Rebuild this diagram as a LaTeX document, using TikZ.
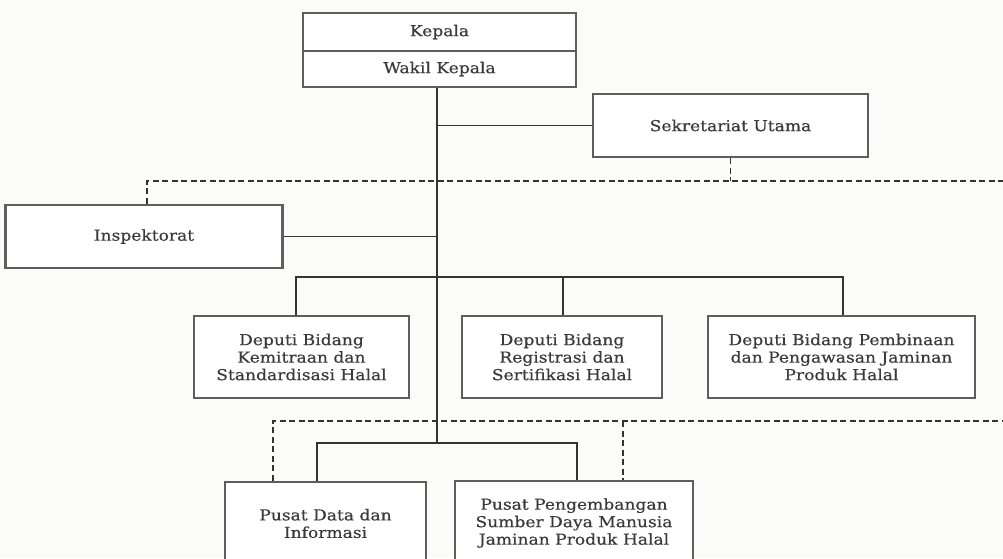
\documentclass[tikz,border=0pt]{standalone}
\usepackage{fontspec}
\setmainfont{DejaVu Serif}[FakeStretch=1.14,FakeBold=0.4]
\usetikzlibrary{calc}
\definecolor{boxline}{HTML}{5E5E5E}
\definecolor{conn}{HTML}{333333}
\definecolor{txt}{HTML}{3A3A3A}
\definecolor{bg}{HTML}{FBFBF9}
\tikzset{
  unit/.style={draw=boxline, line width=2.6pt, fill=white, align=center, text=txt,
    font=\fontsize{15}{17.5}\selectfont, inner sep=0pt},
  link/.style={draw=conn, line width=1.5pt},
  dlink/.style={draw=conn, line width=1.5pt, dash pattern=on 6pt off 3.5pt},
}
\begin{document}
\begin{tikzpicture}[x=1pt,y=-1pt]
\useasboundingbox (0,0) rectangle (1003,558);
\fill[bg] (0,0) rectangle (1003,558);
\clip (0,0) rectangle (1003,558);
% coordinates for drops and free ends
\coordinate (trunkx) at (437,0);
\coordinate (dd1) at (296,0);
\coordinate (dd2) at (563,0);
\coordinate (dd3) at (843,0);
\coordinate (pd1) at (317,0);
\coordinate (pd2) at (577,0);
\coordinate (bus1) at (0,277);
\coordinate (bus2) at (0,443);
\coordinate (dash1) at (0,181);
\coordinate (dash2) at (0,421);
\coordinate (inspx) at (147,0);
\coordinate (dl1) at (273,0);
\coordinate (dl2) at (623,0);
\coordinate (rightend) at (1010,0);
% nodes
\node[unit, minimum width=273pt, minimum height=38pt] (kep) at (439.5,32) {Kepala};
\node[unit, minimum width=273pt, minimum height=36pt] (wak) at (439.5,69) {Wakil Kepala};
\node[unit, minimum width=275pt, minimum height=63pt] (sek) at (730.5,125.5) {Sekretariat Utama};
\node[unit, minimum width=277pt, minimum height=63pt] (ins) at (144,236.5) {Inspektorat};
\node[unit, minimum width=215pt, minimum height=82pt] (dep1) at (301.5,357) {Deputi Bidang\\Kemitraan dan\\Standardisasi Halal};
\node[unit, minimum width=200pt, minimum height=82pt] (dep2) at (562,357) {Deputi Bidang\\Registrasi dan\\Sertifikasi Halal};
\node[unit, minimum width=267pt, minimum height=82pt] (dep3) at (841.5,357) {Deputi Bidang Pembinaan\\dan Pengawasan Jaminan\\Produk Halal};
\node[unit, minimum width=201pt, minimum height=83pt] (pdi) at (325.5,523.5) {Pusat Data dan\\Informasi};
\node[unit, minimum width=238pt, minimum height=84pt] (psd) at (574,523) {Pusat Pengembangan\\Sumber Daya Manusia\\Jaminan Produk Halal};
% solid connectors
\draw[link] (wak.south -| trunkx) -- (trunkx |- bus2);
\draw[link] (trunkx |- sek.west) -- (sek.west);
\draw[link] (trunkx |- ins.east) -- (ins.east);
\draw[link] (dd1 |- dep1.north) -- (dd1 |- bus1) -- (dd3 |- bus1) -- (dd3 |- dep3.north);
\draw[link] (dd2 |- bus1) -- (dd2 |- dep2.north);
\draw[link] (pd1 |- pdi.north) -- (pd1 |- bus2) -- (pd2 |- bus2) -- (pd2 |- psd.north);
% dashed connectors
\draw[dlink] (sek.south) -- (sek.south |- dash1);
\draw[dlink] (inspx |- ins.north) -- (inspx |- dash1) -- (rightend |- dash1);
\draw[dlink] (dl1 |- pdi.north) -- (dl1 |- dash2) -- (rightend |- dash2);
\draw[dlink] (dl2 |- dash2) -- (dl2 |- psd.north);
\end{tikzpicture}
\end{document}
